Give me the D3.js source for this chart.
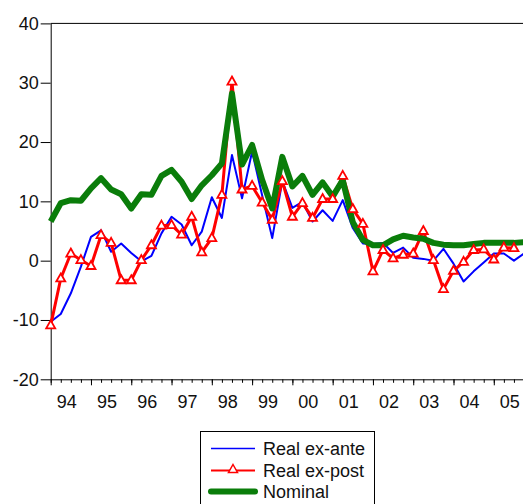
<!DOCTYPE html>
<html>
<head>
<meta charset="utf-8">
<script src="https://cdn.jsdelivr.net/npm/d3@7"></script>
<style>
  body { margin: 0; background: #fff; }
  svg { display: block; font-family: "Liberation Sans", Arial, sans-serif; }
</style>
</head>
<body>
<div id="chart"></div>
<script>
// quarterly, 1994Q1 .. 2005Q4
var yearLabels = ["94", "95", "96", "97", "98", "99", "00", "01", "02", "03", "04", "05"];
var yTicks = [-20, -10, 0, 10, 20, 30, 40];

var exAnte = [-10.3, -9.0, -5.5, -1.0, 4.0, 5.1, 1.5, 2.9, 1.3, -0.1, 0.8, 4.6,
              7.4, 6.1, 2.6, 4.9, 10.7, 7.2, 17.8, 10.5, 18.4, 11.0, 3.8, 13.4,
              8.9, 9.9, 6.6, 8.5, 6.7, 10.2, 5.5, 2.9, 2.8, 3.0, 1.3, 2.2,
              0.5, 0.3, 0.0, 2.0, -0.5, -3.5, -1.8, -0.3, 1.2, 1.2, 0.0, 1.2];

var exPost = [-10.9, -3.0, 1.2, 0.1, -0.9, 4.3, 3.0, -3.3, -3.3, 0.1, 2.6, 5.9,
              6.0, 4.4, 7.4, 1.4, 3.8, 11.1, 30.2, 12.0, 12.6, 9.8, 6.9, 13.4,
              7.4, 9.7, 7.2, 10.4, 10.4, 14.3, 8.7, 6.2, -1.8, 1.8, 0.4, 1.0,
              1.2, 5.0, 0.1, -4.8, -1.7, -0.2, 1.8, 1.9, 0.2, 2.2, 2.1];

var nominal = [6.6, 9.7, 10.2, 10.1, 12.2, 13.9, 12.0, 11.2, 8.8, 11.2, 11.1, 14.3,
               15.3, 13.3, 10.4, 12.7, 14.4, 16.4, 28.2, 16.2, 19.5, 13.6, 8.8, 17.5,
               12.5, 14.3, 11.1, 13.2, 10.8, 13.6, 6.5, 3.5, 2.6, 2.6, 3.6, 4.2,
               3.9, 3.7, 3.0, 2.7, 2.6, 2.6, 2.8, 3.0, 3.0, 3.0, 3.0, 3.1];

var W = 523, H = 504;
var svg = d3.select("#chart").append("svg")
    .attr("width", W)
    .attr("height", H);

var x = d3.scaleLinear().domain([0, 47]).range([50.7, 524]);
var y = d3.scaleLinear().domain([-20, 40]).range([379.3, 23.4]);

// frame top
svg.append("line")
    .attr("x1", x(0)).attr("x2", W)
    .attr("y1", y(40)).attr("y2", y(40))
    .attr("stroke", "#000").attr("stroke-width", 1);

// y axis (plain hyphen for negatives, like the original)
var yAxis = svg.append("g")
    .attr("transform", "translate(" + x(0) + ",0)")
    .call(d3.axisLeft(y).tickValues(yTicks).tickSize(10).tickPadding(2).tickSizeOuter(0)
        .tickFormat(function(d) { return String(d); }));
yAxis.selectAll("text").attr("font-size", 18).attr("fill", "#111")
    .style("font-family", "'Liberation Sans', Arial, sans-serif");

// x axis: minor quarter ticks + major year ticks
var qIdx = d3.range(0, 48);
var bottom = y(-20);
svg.append("g")
    .attr("transform", "translate(0," + bottom + ")")
    .call(d3.axisBottom(x).tickValues(qIdx).tickSize(3.5).tickFormat("").tickSizeOuter(0))
    .call(function(g) { g.select(".domain").attr("d", "M" + x(0) + ",0.5H" + W); });
svg.append("g")
    .attr("transform", "translate(0," + bottom + ")")
    .call(d3.axisBottom(x).tickValues(d3.range(0, 48, 4)).tickSize(6).tickFormat("").tickSizeOuter(0))
    .call(function(g) { g.select(".domain").remove(); });

svg.append("g").selectAll("text")
    .data(yearLabels)
    .enter().append("text")
    .attr("x", function(d, i) { return x(i * 4) + 16; })
    .attr("y", 408)
    .attr("text-anchor", "middle")
    .attr("font-size", 18)
    .attr("fill", "#111")
    .text(function(d) { return d; });

// lines
var line = d3.line()
    .x(function(d, i) { return x(i); })
    .y(function(d) { return y(d); });

svg.append("path").datum(exAnte)
    .attr("d", line)
    .attr("fill", "none").attr("stroke", "#0000ff").attr("stroke-width", 2)
    .attr("stroke-linejoin", "round");

svg.append("path").datum(exPost)
    .attr("d", line)
    .attr("fill", "none").attr("stroke", "#ff0000").attr("stroke-width", 3)
    .attr("stroke-linejoin", "round");

svg.append("path").datum(nominal)
    .attr("d", line)
    .attr("fill", "none").attr("stroke", "#0a7d0a").attr("stroke-width", 6)
    .attr("stroke-linejoin", "round");

// triangle markers on ex-post
var tri = "M0,-5L4.5,3L-4.5,3Z";
svg.append("g").selectAll("path")
    .data(exPost)
    .enter().append("path")
    .attr("d", tri)
    .attr("transform", function(d, i) { return "translate(" + x(i) + "," + y(d) + ")"; })
    .attr("fill", "#fff").attr("stroke", "#ff0000").attr("stroke-width", 1.8);

// legend
var legend = svg.append("g");
legend.append("rect")
    .attr("x", 200.5).attr("y", 431.5)
    .attr("width", 174).attr("height", 90)
    .attr("fill", "#fff").attr("stroke", "#000").attr("stroke-width", 1);

var legItems = [
    {name: "Real ex-ante", color: "#0000ff", width: 1.5, marker: false},
    {name: "Real ex-post", color: "#ff0000", width: 2, marker: true},
    {name: "Nominal", color: "#0a7d0a", width: 6, marker: false}
];
var legY = [448.5, 470.5, 491.5];

legItems.forEach(function(it, i) {
    legend.append("line")
        .attr("x1", 211).attr("x2", 255)
        .attr("y1", legY[i]).attr("y2", legY[i])
        .attr("stroke", it.color).attr("stroke-width", it.width)
        .attr("stroke-linecap", it.width > 3 ? "round" : "butt");
    if (it.marker) {
        legend.append("path").attr("d", tri)
            .attr("transform", "translate(233," + (legY[i] - 1) + ")")
            .attr("fill", "#fff").attr("stroke", it.color).attr("stroke-width", 1.5);
    }
    legend.append("text")
        .attr("x", 263).attr("y", legY[i])
        .attr("dy", "0.35em")
        .attr("font-size", 18)
        .attr("fill", "#111")
        .text(it.name);
});
</script>
</body>
</html>
